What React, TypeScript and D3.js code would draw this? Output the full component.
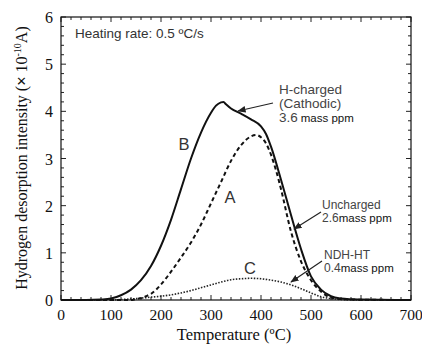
import React from "react";
import * as d3 from "d3";

const tempB = [0, 50, 80, 100, 120, 140, 160, 180, 200, 220, 240, 260, 280, 300, 310, 320, 325, 330, 340, 360, 380, 400, 410, 420, 440, 460, 480, 500, 520, 540, 560, 580, 600, 700];
const valB = [0, 0, 0.01, 0.03, 0.1, 0.22, 0.42, 0.72, 1.15, 1.7, 2.35, 3.0, 3.55, 3.97, 4.12, 4.19, 4.2, 4.15, 4.06, 3.95, 3.83, 3.68, 3.52, 3.25, 2.55, 1.8, 1.08, 0.5, 0.22, 0.08, 0.03, 0.015, 0.01, 0];

const tempA = [0, 140, 150, 160, 170, 180, 200, 220, 240, 260, 280, 300, 320, 340, 360, 380, 390, 400, 410, 420, 430, 440, 460, 480, 500, 520, 540, 560, 580, 700];
const valA = [0, 0, 0.02, 0.04, 0.08, 0.13, 0.33, 0.6, 0.9, 1.22, 1.6, 2.05, 2.5, 2.95, 3.28, 3.47, 3.5, 3.45, 3.32, 3.08, 2.75, 2.35, 1.45, 0.82, 0.42, 0.18, 0.05, 0.02, 0.01, 0];

const tempC = [0, 100, 120, 150, 180, 200, 220, 240, 260, 280, 300, 320, 340, 360, 380, 400, 420, 440, 460, 480, 500, 520, 540, 560, 600, 700];
const valC = [0, 0, 0.01, 0.03, 0.06, 0.08, 0.11, 0.15, 0.2, 0.26, 0.32, 0.38, 0.43, 0.45, 0.46, 0.45, 0.42, 0.38, 0.32, 0.24, 0.15, 0.07, 0.03, 0.01, 0, 0];

const xTicks = [0, 100, 200, 300, 400, 500, 600, 700];
const yTicks = [0, 1, 2, 3, 4, 5, 6];

const L = 61, R = 411, T = 17, B = 300;

export default function App() {
  const x = d3.scaleLinear().domain([0, 700]).range([L, R]);
  const y = d3.scaleLinear().domain([0, 6]).range([B, T]);
  const line = d3.line<[number, number]>().x(d => x(d[0])).y(d => y(d[1])).curve(d3.curveMonotoneX);
  const mk = (ts: number[], vs: number[]) => line(ts.map((t, i) => [t, vs[i]] as [number, number])) || "";

  const xMinor = d3.range(0, 701, 20);
  const yMinor = d3.range(0, 6.001, 0.2);
  const serif = "'Liberation Serif', 'Times New Roman', serif";
  const sans = "'Liberation Sans', Arial, sans-serif";
  const gray = "#444";

  return (
    <svg width={422} height={347} style={{ position: "absolute", left: 0, top: 0 }}>
      <defs>
        <marker id="ah" viewBox="0 0 10 10" refX="9" refY="5" markerWidth="7" markerHeight="7" orient="auto">
          <path d="M0,1 L10,5 L0,9 z" fill="#222" />
        </marker>
      </defs>
      <rect width={422} height={347} fill="#fff" />
      {xMinor.map(t => {
        const major = t % 100 === 0;
        const len = major ? 5 : 3;
        return (
          <g key={"xt" + t} stroke="#222" strokeWidth={1}>
            <line x1={x(t)} x2={x(t)} y1={B} y2={B - len} />
            <line x1={x(t)} x2={x(t)} y1={T} y2={T + len} />
          </g>
        );
      })}
      {yMinor.map((v, i) => {
        const major = i % 5 === 0;
        const len = major ? 5 : 3;
        return (
          <g key={"yt" + i} stroke="#222" strokeWidth={1}>
            <line x1={L} x2={L + len} y1={y(v)} y2={y(v)} />
            <line x1={R} x2={R - len} y1={y(v)} y2={y(v)} />
          </g>
        );
      })}
      <rect x={L} y={T} width={R - L} height={B - T} fill="none" stroke="#111" strokeWidth={1.2} />
      {xTicks.map(t => (
        <text key={"xl" + t} x={x(t)} y={320} textAnchor="middle" fontFamily={serif} fontSize={15.5} fill="#111">{t}</text>
      ))}
      {yTicks.map(v => (
        <text key={"yl" + v} x={53} y={y(v) + 6} textAnchor="end" fontFamily={serif} fontSize={16} fill="#111">{v}</text>
      ))}
      <text x={234} y={340} textAnchor="middle" fontFamily={serif} fontSize={16.5} fill="#111">Temperature (ºC)</text>
      <text transform="translate(27,158) rotate(-90)" textAnchor="middle" fontFamily={serif} fontSize={16} fill="#111">
        Hydrogen desorption intensity (<tspan fontFamily={sans}>×</tspan> 10<tspan dy={-6} fontSize={10}>-10</tspan><tspan dy={6}>A)</tspan>
      </text>
      <path d={mk(tempC, valC)} fill="none" stroke="#222" strokeWidth={1.6} strokeDasharray="1.5,1.5" />
      <path d={mk(tempA, valA)} fill="none" stroke="#111" strokeWidth={2} strokeDasharray="4,3" />
      <path d={mk(tempB, valB)} fill="none" stroke="#111" strokeWidth={2} />
      <text x={75} y={37.5} fontFamily={sans} fontSize={13.5} fill="#333">Heating rate: 0.5 ºC/s</text>
      <text x={184} y={150} textAnchor="middle" fontFamily={sans} fontSize={16.5} fill="#333">B</text>
      <text x={230} y={203} textAnchor="middle" fontFamily={sans} fontSize={16.5} fill="#333">A</text>
      <text x={250} y={274} textAnchor="middle" fontFamily={sans} fontSize={16.5} fill="#333">C</text>

      <text x={279} y={93.5} fontFamily={sans} fontSize={13.5} fill={gray}>H-charged</text>
      <text x={279} y={107.5} fontFamily={sans} fontSize={13.5} fill={gray}>(Cathodic)</text>
      <text x={279} y={122} fontFamily={sans} fontSize={13.5} fill={gray}>3.6<tspan fontSize={11.5} fill="#111" dx={3}>mass ppm</tspan></text>
      <line x1={273} y1={103} x2={238} y2={111} stroke="#222" strokeWidth={1.2} markerEnd="url(#ah)" />

      <text x={322} y={208.5} fontFamily={sans} fontSize={12} fill={gray}>Uncharged</text>
      <text x={322} y={222} fontFamily={sans} fontSize={12} fill={gray}>2.6<tspan fontSize={11.5} fill="#111">mass ppm</tspan></text>
      <line x1={321} y1={212} x2={294} y2={229} stroke="#222" strokeWidth={1.2} markerEnd="url(#ah)" />

      <text x={324} y={258.5} fontFamily={sans} fontSize={12} fill={gray}>NDH-HT</text>
      <text x={324} y={272} fontFamily={sans} fontSize={12} fill={gray}>0.4<tspan fontSize={11.5} fill="#111">mass ppm</tspan></text>
      <line x1={322} y1={261} x2={291} y2={282} stroke="#222" strokeWidth={1.2} markerEnd="url(#ah)" />
    </svg>
  );
}
